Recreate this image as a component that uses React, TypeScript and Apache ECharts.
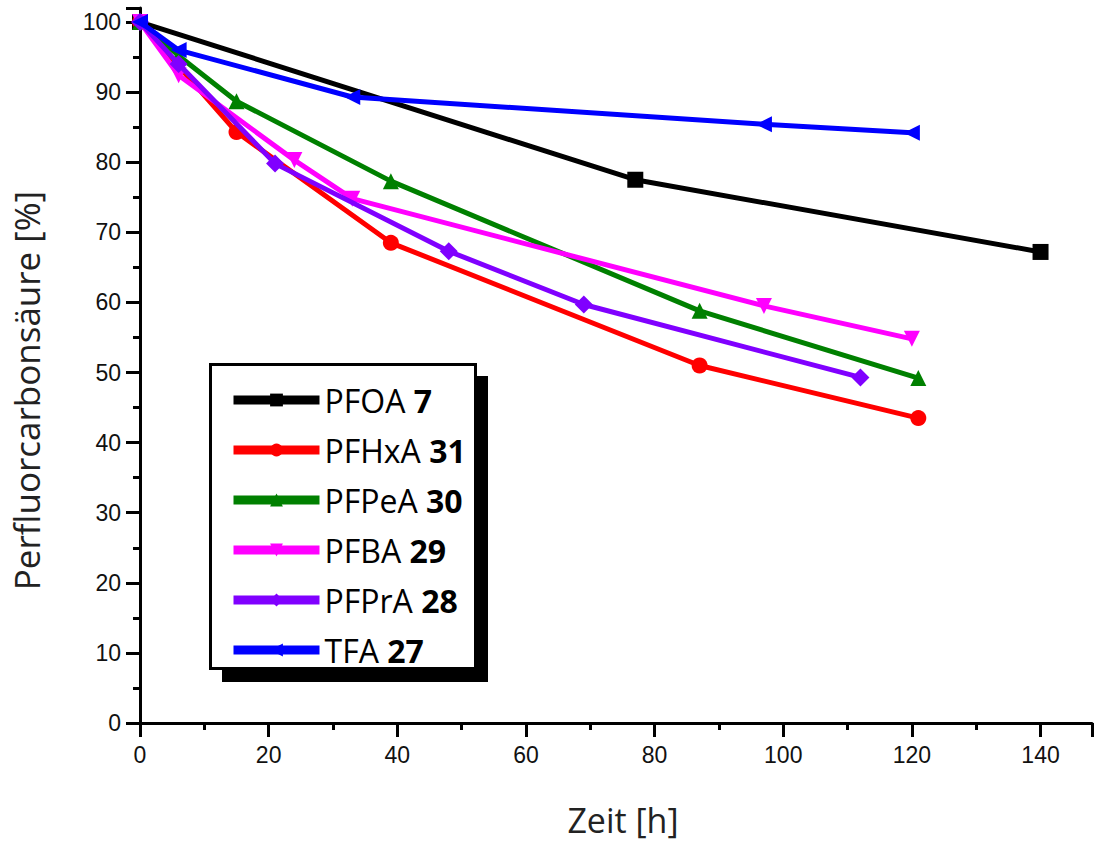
import React, { useEffect, useRef } from "react";
import * as echarts from "echarts";

const xTicks = [0, 20, 40, 60, 80, 100, 120, 140];
const yTicks = [0, 10, 20, 30, 40, 50, 60, 70, 80, 90, 100];

const seriesNames = ["PFOA", "PFHxA", "PFPeA", "PFBA", "PFPrA", "TFA"];
const seriesNumbers = ["7", "31", "30", "29", "28", "27"];
const seriesColors = ["#000000", "#ff0000", "#008000", "#ff00ff", "#8000ff", "#0000ff"];
const seriesSymbols = ["rect", "circle", "triangle", "triangle", "diamond", "triangle"];
const seriesRotate = [0, 0, 0, 180, 0, 90];

const pfoa = [[0, 100], [77, 77.5], [140, 67.2]];
const pfhxa = [[0, 100], [15, 84.3], [39, 68.5], [87, 51], [121, 43.5]];
const pfpea = [[0, 100], [6, 95.2], [15, 88.7], [39, 77.3], [87, 58.8], [121, 49.2]];
const pfba = [[0, 100], [6, 92.4], [24, 80.3], [33, 74.8], [97, 59.5], [120, 54.8]];
const pfpra = [[0, 100], [6, 94], [21, 79.8], [48, 67.3], [69, 59.7], [112, 49.3]];
const tfa = [[0, 100], [6, 96], [33, 89.3], [97, 85.4], [120, 84.2]];

const allData = [pfoa, pfhxa, pfpea, pfba, pfpra, tfa];

export default function App() {
  const ref = useRef<HTMLDivElement>(null);
  useEffect(() => {
    if (!ref.current) return;
    const chart = echarts.init(ref.current, null, { renderer: "svg" });
    const tickFont = "'Liberation Sans', Arial, sans-serif";
    const titleFont = "'Open Sans', 'Noto Sans', sans-serif";
    chart.setOption({
      animation: false,
      backgroundColor: "#ffffff",
      grid: { left: 140, right: 3, top: 8, bottom: 116, containLabel: false },
      xAxis: {
        type: "value",
        min: 0,
        max: 148,
        interval: 20,
        name: "Zeit [h]",
        nameLocation: "middle",
        nameGap: 80,
        nameTextStyle: { fontFamily: titleFont, fontSize: 34, color: "#222", padding: [0, 0, 0, 14] },
        axisLine: { show: true, onZero: false, lineStyle: { color: "#000", width: 3 } },
        axisTick: { show: true, inside: false, length: 14, lineStyle: { color: "#000", width: 3 } },
        minorTick: { show: true, splitNumber: 2, length: 7, lineStyle: { color: "#000", width: 3 } },
        splitLine: { show: false },
        axisLabel: {
          margin: 20,
          fontFamily: tickFont,
          fontSize: 23,
          color: "#111",
          formatter: (v: number) => (xTicks.includes(v) ? String(v) : ""),
          showMaxLabel: false,
        },
      },
      yAxis: {
        type: "value",
        min: 0,
        max: 102,
        interval: 10,
        name: "Perfluorcarbonsäure [%]",
        nameLocation: "middle",
        nameGap: 96,
        nameRotate: 90,
        nameTextStyle: { fontFamily: titleFont, fontSize: 35, color: "#222", padding: [0, 50, 0, 0] },
        axisLine: { show: true, onZero: false, lineStyle: { color: "#000", width: 3 } },
        axisTick: { show: true, inside: false, length: 14, lineStyle: { color: "#000", width: 3 } },
        minorTick: { show: true, splitNumber: 2, length: 7, lineStyle: { color: "#000", width: 3 } },
        splitLine: { show: false },
        axisLabel: {
          margin: 19,
          fontFamily: tickFont,
          fontSize: 23,
          color: "#111",
          formatter: (v: number) => (yTicks.includes(v) ? String(v) : ""),
          showMaxLabel: false,
        },
      },
      graphic: [
        { type: "rect", z: 5, shape: { x: 222, y: 376, width: 266, height: 306 }, style: { fill: "#000" } },
        { type: "rect", z: 6, shape: { x: 210.5, y: 364.5, width: 265, height: 304 }, style: { fill: "#fff", stroke: "#000", lineWidth: 3 } },
      ],
      legend: {
        z: 20,
        orient: "vertical",
        left: 229,
        top: 384,
        padding: 0,
        itemWidth: 86,
        itemHeight: 16,
        itemGap: 18,
        lineStyle: { width: 9 },
        textStyle: {
          fontFamily: titleFont,
          fontSize: 32,
          lineHeight: 30,
          color: "#000",
          rich: {
            n: { fontFamily: titleFont, fontSize: 32, color: "#000", lineHeight: 30 },
            b: { fontFamily: titleFont, fontSize: 32, fontWeight: "bold", color: "#000", lineHeight: 30 },
          },
        },
        formatter: (name: string) => {
          const i = seriesNames.indexOf(name);
          return `{n|${name} }{b|${seriesNumbers[i]}}`;
        },
        data: seriesNames,
      },
      series: seriesNames.map((name, i) => ({
        name,
        type: "line",
        data: allData[i],
        symbol: seriesSymbols[i],
        symbolRotate: seriesRotate[i],
        symbolSize: seriesSymbols[i] === "diamond" ? 18 : 16,
        showAllSymbol: true,
        color: seriesColors[i],
        lineStyle: { color: seriesColors[i], width: 5 },
        itemStyle: { color: seriesColors[i] },
        z: 2 + i,
      })),
    });
    return () => chart.dispose();
  }, []);
  return <div ref={ref} style={{ width: 1095, height: 842, position: "absolute", left: 0, top: 0 }} />;
}
